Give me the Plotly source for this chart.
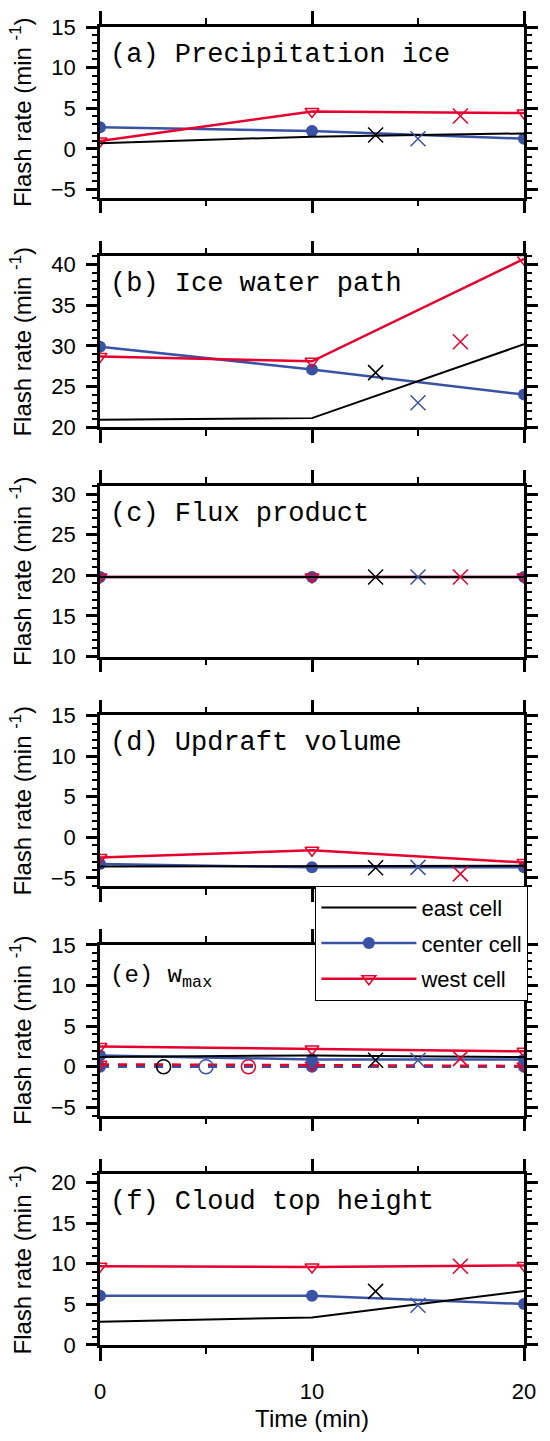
import plotly.graph_objects as go
from plotly.subplots import make_subplots

# model output times and the times where the observed rates are drawn
time = [0, 10, 20]
obs_time = [13, 15, 17]
obs_time_e = [3, 5, 7]

cells = ["east cell", "center cell", "west cell"]
panel_labels = ["(a) Precipitation ice", "(b) Ice water path", "(c) Flux product",
                "(d) Updraft volume", "(e) w<sub>max</sub>", "(f) Cloud top height"]
y_ranges = [[-6, 15], [20, 41], [10, 31], [-6, 15], [-6, 15], [0, 21]]

# (a) precipitation ice
east_a = [0.7, 1.5, 1.9]
center_a = [2.65, 2.2, 1.25]
west_a = [0.95, 4.6, 4.4]
obs_a = [1.7, 1.25, 4.05]

# (b) ice water path
east_b = [20.9, 21.1, 30.2]
center_b = [29.9, 27.1, 24.0]
west_b = [28.7, 28.1, 40.7]
obs_b = [26.7, 23.0, 30.5]

# (c) flux product
east_c = [19.8, 19.8, 19.8]
center_c = [19.8, 19.8, 19.8]
west_c = [19.8, 19.8, 19.8]
obs_c = [19.8, 19.8, 19.8]

# (d) updraft volume
east_d = [-3.6, -3.55, -3.5]
center_d = [-3.3, -3.7, -3.7]
west_d = [-2.5, -1.6, -3.1]
obs_d = [-3.75, -3.7, -4.5]

# (e) wmax, solid and dashed versions
east_e = [1.2, 1.4, 1.2]
center_e = [1.4, 0.9, 0.9]
west_e = [2.5, 2.2, 1.9]
obs_e = [0.8, 0.8, 1.0]
east_e_dash = [0.1, 0.1, 0.1]
center_e_dash = [0.0, 0.0, 0.0]
west_e_dash = [0.3, 0.2, 0.1]
obs_e_dash = [0.0, 0.0, 0.0]

# (f) cloud top height
east_f = [2.85, 3.4, 6.65]
center_f = [6.05, 6.05, 5.05]
west_f = [9.7, 9.6, 9.8]
obs_f = [6.6, 4.9, 9.7]

panels = [
    (east_a, center_a, west_a, obs_a),
    (east_b, center_b, west_b, obs_b),
    (east_c, center_c, west_c, obs_c),
    (east_d, center_d, west_d, obs_d),
    (east_e, center_e, west_e, obs_e),
    (east_f, center_f, west_f, obs_f),
]

BLACK = "black"
BLUE = "rgb(58,82,163)"
RED = "rgb(230,0,45)"
colors = [BLACK, BLUE, RED]
SANS = "Liberation Sans, Arial, Helvetica, sans-serif"
MONO = "Liberation Mono, Courier New, monospace"

fig = make_subplots(rows=6, cols=1, vertical_spacing=0.0447)


def east_trace(y, dash, legend):
    return go.Scatter(x=time, y=y, name=cells[0], mode="lines", legendgroup="east",
                      line=dict(color=BLACK, width=2, dash=dash),
                      showlegend=legend, legendrank=1)


def center_trace(y, dash, legend):
    return go.Scatter(x=time, y=y, name=cells[1], mode="lines+markers", legendgroup="center",
                      line=dict(color=BLUE, width=2.5, dash=dash),
                      marker=dict(symbol="circle", size=12, color=BLUE),
                      showlegend=legend, legendrank=2)


def west_trace(y, dash, legend):
    return go.Scatter(x=time, y=y, name=cells[2], mode="lines+markers", legendgroup="west",
                      line=dict(color=RED, width=2.5, dash=dash),
                      marker=dict(symbol="triangle-down-open", size=12, color=RED, line=dict(width=1.5)),
                      showlegend=legend, legendrank=3)


for i, (east, center, west, obs) in enumerate(panels):
    row = i + 1
    if row == 5:
        # dashed set: black underneath
        fig.add_trace(east_trace(east_e_dash, "dash", False), row=row, col=1)
        fig.add_trace(center_trace(center_e_dash, "dash", False), row=row, col=1)
        fig.add_trace(west_trace(west_e_dash, "dash", False), row=row, col=1)
        fig.add_trace(go.Scatter(
            x=obs_time_e, y=obs_e_dash, mode="markers", showlegend=False,
            marker=dict(symbol="circle-open", size=14, color=colors, line=dict(width=1.5))),
            row=row, col=1)
    legend = row == 1
    fig.add_trace(center_trace(center, "solid", legend), row=row, col=1)
    fig.add_trace(west_trace(west, "solid", legend), row=row, col=1)
    fig.add_trace(east_trace(east, "solid", legend), row=row, col=1)
    fig.add_trace(go.Scatter(
        x=obs_time, y=obs, mode="markers", showlegend=False,
        marker=dict(symbol="x-thin-open", size=15, color=colors, line=dict(width=1.5, color=colors))),
        row=row, col=1)

    fig.update_yaxes(
        range=y_ranges[i], tick0=0, dtick=5, ticks="outside", ticklen=11, tickwidth=2.5,
        tickcolor="black", minor=dict(dtick=1, ticks="outside", ticklen=5, tickwidth=1.5, tickcolor="black"),
        showline=True, linewidth=2.5, linecolor="black", mirror="ticks",
        showgrid=False, zeroline=False, ticklabelstandoff=6,
        tickfont=dict(family=SANS, size=22, color="black"),
        title=dict(text="Flash rate (min <sup>-1</sup>)", font=dict(family=SANS, size=24, color="black"),
                   standoff=13),
        row=row, col=1)
    fig.update_xaxes(
        range=[0, 20], tick0=0, dtick=10, ticks="outside", ticklen=13, tickwidth=2.5,
        tickcolor="black", minor=dict(dtick=5, ticks="outside", ticklen=6, tickwidth=1.5, tickcolor="black"),
        showline=True, linewidth=2.5, linecolor="black", mirror="ticks",
        showgrid=False, zeroline=False, showticklabels=(row == 6),
        tickfont=dict(family=SANS, size=22, color="black"), ticklabelstandoff=12,
        row=row, col=1)

    xref = "x domain" if row == 1 else f"x{row} domain"
    yref = "y domain" if row == 1 else f"y{row} domain"
    fig.add_annotation(
        text=panel_labels[i], xref=xref, yref=yref, x=0.02, y=0.838 if row != 5 else 0.81,
        xanchor="left", yanchor="middle", showarrow=False,
        font=dict(family=MONO, size=27 if row != 5 else 24, color="black"))

fig.update_xaxes(title=dict(text="Time (min)", font=dict(family=SANS, size=24, color="black"), standoff=8),
                 row=6, col=1)

fig.update_layout(
    width=550, height=1441,
    margin=dict(l=100, r=13, t=19, b=85),
    plot_bgcolor="white", paper_bgcolor="white",
    legend=dict(x=0.508, y=0.3485, xanchor="left", yanchor="top",
                bgcolor="white", bordercolor="black", borderwidth=1,
                font=dict(family=SANS, size=22, color="black"),
                itemwidth=95, tracegroupgap=4),
)

# drop the default page margin and scrollbars so the figure sits at the window origin
fig.write_html(
    "out.html",
    config={"responsive": False, "displayModeBar": False},
    post_script="document.body.style.margin='0';document.body.style.overflow='hidden';",
)
